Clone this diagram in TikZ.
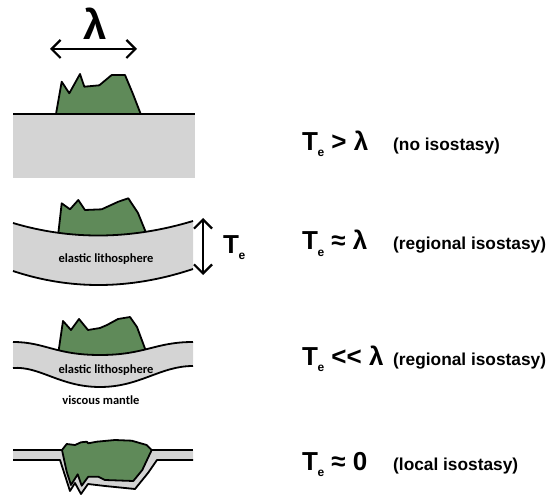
\documentclass[tikz,border=0pt]{standalone}
\usepackage{fontspec}
\setmainfont{Liberation Sans}
\newfontfamily\calib{Carlito}
\usetikzlibrary{arrows.meta}
\definecolor{crust}{HTML}{5F8A59}
\definecolor{litho}{HTML}{D4D4D4}
\newcommand{\Te}{T\kern-0.5pt\raisebox{-6pt}{\fontsize{12}{12}\selectfont e}}
\tikzset{
  mount/.style={draw=black, fill=crust, line width=1.8pt, line join=round},
  slab/.style={fill=litho},
  rim/.style={line width=1.8pt, line join=round},
  lam/.style={font=\fontsize{26}{28}\selectfont\bfseries, anchor=base west, inner sep=0pt},
  note/.style={font=\fontsize{17.3}{19}\selectfont\bfseries, anchor=base west, inner sep=0pt},
  tag/.style={font=\calib\fontsize{12.5}{13}\selectfont\bfseries, inner sep=0pt},
  span/.style={line width=2.2pt,
    {Straight Barb[length=9pt,width=18pt]}-{Straight Barb[length=9pt,width=18pt]}},
}

\begin{document}
\begin{tikzpicture}[x=1pt,y=-1pt]
\useasboundingbox (0,0) rectangle (550,495);

% rigid plate
\node[font=\fontsize{42}{44}\selectfont\bfseries, anchor=base, inner sep=0pt] (wave) at (95,40) {λ};
\coordinate (wl) at (50,49);
\coordinate (wr) at (137,49);
\draw[span] (wl) -- (wr);
\fill[slab] (13,114) rectangle (195,178);
\draw[rim] (13,114) -- (195,114);
\draw[mount] (56,114) -- (61.7,81.7) -- (69.3,93.3) -- (80,74) -- (84.3,86.7) -- (99.3,85.3)
  -- (111.7,75) -- (125,75) -- (132.7,93.3) -- (140.7,114) -- cycle;

% flexed plate
\draw[mount] (57,245) -- (61.7,203.3) -- (70,209.3) -- (78.3,200) -- (85,210) -- (101.7,209.3)
  -- (118.3,201.7) -- (128.3,198.3) -- (138,213) -- (151,245) -- cycle;
\fill[slab] (13,223) .. controls (70,240) and (130,240) .. (193,221) -- (193,269)
  .. controls (130,290) and (70,290) .. (13,271) -- cycle;
\draw[rim] (13,223) .. controls (70,240) and (130,240) .. (193,221);
\draw[rim] (13,271) .. controls (70,290) and (130,290) .. (193,269);
\node[tag] (el1) at (106,259.5) {elastic lithosphere};
\coordinate (tt) at (203,218);
\coordinate (tb) at (203,275);
\draw[span] (tt) -- (tb);
\node[lam] (te) at (223,253) {\Te};

% thin plate on mantle
\draw[mount] (57,362) -- (63,321) -- (71,330) -- (79,319) -- (88,330) -- (100,328)
  -- (107,325) -- (118,319) -- (130,317) -- (137,327) -- (150,362) -- cycle;
\fill[slab] (13,342) .. controls (45,342) and (55,355) .. (100,355)
  .. controls (145,355) and (155,342) .. (193,342) -- (193,366)
  .. controls (160,366) and (140,387) .. (100,387)
  .. controls (60,387) and (40,366) .. (13,368) -- cycle;
\draw[rim] (13,342) .. controls (45,342) and (55,355) .. (100,355)
  .. controls (145,355) and (155,342) .. (193,342);
\draw[rim] (13,368) .. controls (40,366) and (60,387) .. (100,387)
  .. controls (140,387) and (160,366) .. (193,366);
\node[tag] (el2) at (106,370) {elastic lithosphere};
\node[tag] (vm) at (101,400) {viscous mantle};

% no strength
\fill[slab] (13,450) -- (193,450) -- (193,460) -- (157,460) -- (148,473) -- (135,489)
  -- (105,486) -- (88,484) -- (81,494) -- (75,483) -- (70,491) -- (60,460) -- (13,460) -- cycle;
\draw[rim] (13,460) -- (60,460) -- (70,491) -- (75,483) -- (81,494) -- (88,484) -- (105,486)
  -- (135,489) -- (148,473) -- (157,460) -- (193,460);
\draw[rim] (13,450) -- (63,450);
\draw[rim] (151,450) -- (193,450);
\draw[mount] (62,450) -- (66.7,444) -- (75,445) -- (81,442.3) -- (86.7,441.7) -- (88.3,443.3)
  -- (96.7,441.7) -- (115,440) -- (131.7,440.7) -- (146.7,445) -- (151.7,450) -- (142.3,470)
  -- (133.3,481) -- (105,480) -- (98.3,476.7) -- (88.3,476.7) -- (81.7,485.7) -- (77.7,474.3)
  -- (71,485) -- (66.7,471.7) -- cycle;

% regimes
\node[lam] (r1) at (302,150) {\Te\ > λ};
\node[note] (n1) at (393,150) {(no isostasy)};
\node[lam] (r2) at (302,250) {\Te\ ≈ λ};
\node[note] (n2) at (393,250) {(regional isostasy)};
\node[lam] (r3) at (302,365) {\Te\ <{}< λ};
\node[note] (n3) at (393,365) {(regional isostasy)};
\node[lam] (r4) at (302,470) {\Te\ ≈ 0};
\node[note] (n4) at (393,470) {(local isostasy)};
\end{tikzpicture}
\end{document}
